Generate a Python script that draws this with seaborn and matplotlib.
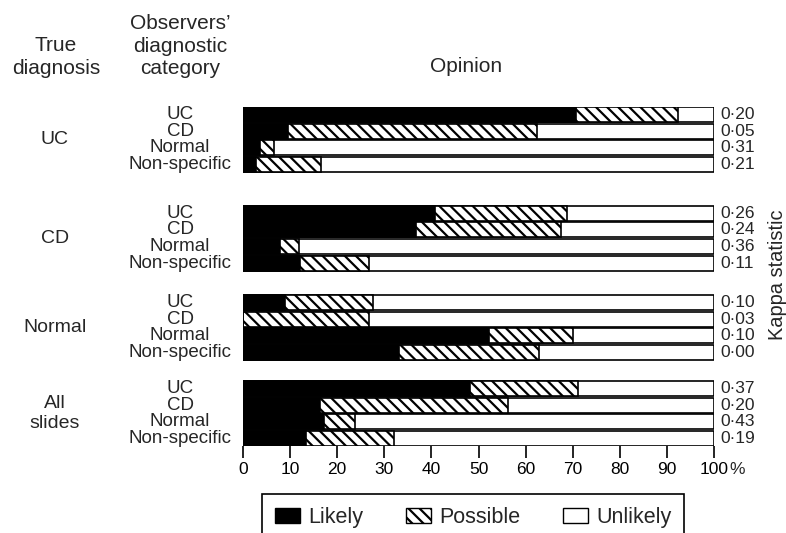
import matplotlib
matplotlib.use('Agg')
import matplotlib.pyplot as plt
import matplotlib.transforms as mtrans
from matplotlib.patches import Patch
import seaborn as sns
import pandas as pd

"""
Observer opinion per true diagnosis, stacked 100% bars + kappa
"""

true_diagnosis = ['UC', 'CD', 'Normal', 'All\nslides']
observer_category = ['UC', 'CD', 'Normal', 'Non-specific']

# % of opinions, rows = observer category inside each true diagnosis group
likely = [70.8, 9.6, 3.7, 2.8,
          40.8, 36.7, 7.9, 12.0,
          9.0, 0.0, 52.2, 33.1,
          48.1, 16.3, 17.2, 13.3]
possible = [21.6, 52.8, 2.9, 13.8,
            27.9, 30.9, 3.9, 14.7,
            18.7, 26.7, 17.8, 29.8,
            23.1, 39.9, 6.6, 18.8]
kappa = [0.20, 0.05, 0.31, 0.21,
         0.26, 0.24, 0.36, 0.11,
         0.10, 0.03, 0.10, 0.00,
         0.37, 0.20, 0.43, 0.19]

xtick_labels = ['0', '10', '20', '30', '40', '50', '60', '70', '80', '90', '100']

# where each group starts, in bar rows
group_start = [0, 5.9, 11.25, 16.4]

sns.set_style('white')
plt.rcParams['font.family'] = ['Liberation Sans', 'DejaVu Sans']
plt.rcParams['hatch.linewidth'] = 1.6

rows = []
for g, grp in enumerate(true_diagnosis):
    for r, cat in enumerate(observer_category):
        i = g * 4 + r
        rows.append({'group': grp, 'category': cat, 'pos': group_start[g] + r,
                     'likely': likely[i], 'possible': possible[i],
                     'unlikely': 100 - likely[i] - possible[i], 'kappa': kappa[i]})
df = pd.DataFrame(rows)
df['cum_possible'] = df['likely'] + df['possible']
df['cum_total'] = df['cum_possible'] + df['unlikely']

W, H = 786, 533
fig = plt.figure(figsize=(W / 100, H / 100), dpi=100)
ax = fig.add_axes([243 / W, 1 - 446 / H, (714 - 243) / W, (446 - 107) / H])

common = dict(y='pos', orient='h', native_scale=True, width=0.9, saturation=1,
              errorbar=None, edgecolor='black', linewidth=1.2, ax=ax)
sns.barplot(data=df, x='cum_total', color='white', **common)
sns.barplot(data=df, x='cum_possible', color='white', hatch='\\\\\\', **common)
sns.barplot(data=df, x='likely', color='black', **common)

ax.set_xlim(0, 100)
ax.set_ylim(group_start[-1] + 3 + 0.45, -0.45)
ax.set_xticks(range(0, 101, 10))
ax.set_xticklabels(xtick_labels)
ax.set_yticks([])
ax.set_xlabel('')
ax.set_ylabel('')
for s in ax.spines.values():
    s.set_visible(False)
ax.tick_params(axis='x', bottom=True, direction='out', length=8.5, width=1.2,
               color='black', labelsize=12.5, pad=3, labelcolor='black')
ax.annotate('%', xy=(100, 0), xycoords=('data', 'axes fraction'),
            xytext=(11, -11.5), textcoords='offset points', ha='left', va='top',
            fontsize=12.5)

# row + group labels
tr = mtrans.blended_transform_factory(fig.transFigure, ax.transData)
for _, row in df.iterrows():
    fig.text(180 / W, row['pos'], row['category'], transform=tr,
             ha='center', va='center', fontsize=13.5)
    fig.text(720 / W, row['pos'], f"{row['kappa']:.2f}".replace('.', '\u00b7'),
             transform=tr, ha='left', va='center', fontsize=12.5)
for g, grp in enumerate(true_diagnosis):
    fig.text(55 / W, group_start[g] + 1.5, grp, transform=tr, ha='center',
             va='center', fontsize=14, linespacing=1.2)

# headers
fig.text(56 / W, 1 - 57 / H, 'True\ndiagnosis', ha='center', va='center',
         fontsize=15, linespacing=1.25)
fig.text(180 / W, 1 - 46 / H, 'Observers\u2019\ndiagnostic\ncategory', ha='center',
         va='center', fontsize=15, linespacing=1.25)
fig.text(466 / W, 1 - 67 / H, 'Opinion', ha='center', va='center', fontsize=15)
fig.text(768 / W, 1 - 275 / H, 'Kappa statistic', rotation=90, ha='left',
         va='center', fontsize=14.4)

handles = [Patch(facecolor='black', edgecolor='black'),
           Patch(facecolor='white', edgecolor='black', hatch='\\\\\\'),
           Patch(facecolor='white', edgecolor='black')]
leg = fig.legend(handles, ['Likely', 'Possible', 'Unlikely'], loc='upper left',
                 bbox_to_anchor=(262 / W, 1 - 494 / H), borderaxespad=0, ncol=3,
                 frameon=True, fancybox=False, edgecolor='black', framealpha=1,
                 borderpad=0.6, handlelength=1.17, handleheight=0.68,
                 handletextpad=0.36, columnspacing=2.0, fontsize=15.5)
leg.get_frame().set_linewidth(1.2)

fig.savefig('out.png', dpi=100)
